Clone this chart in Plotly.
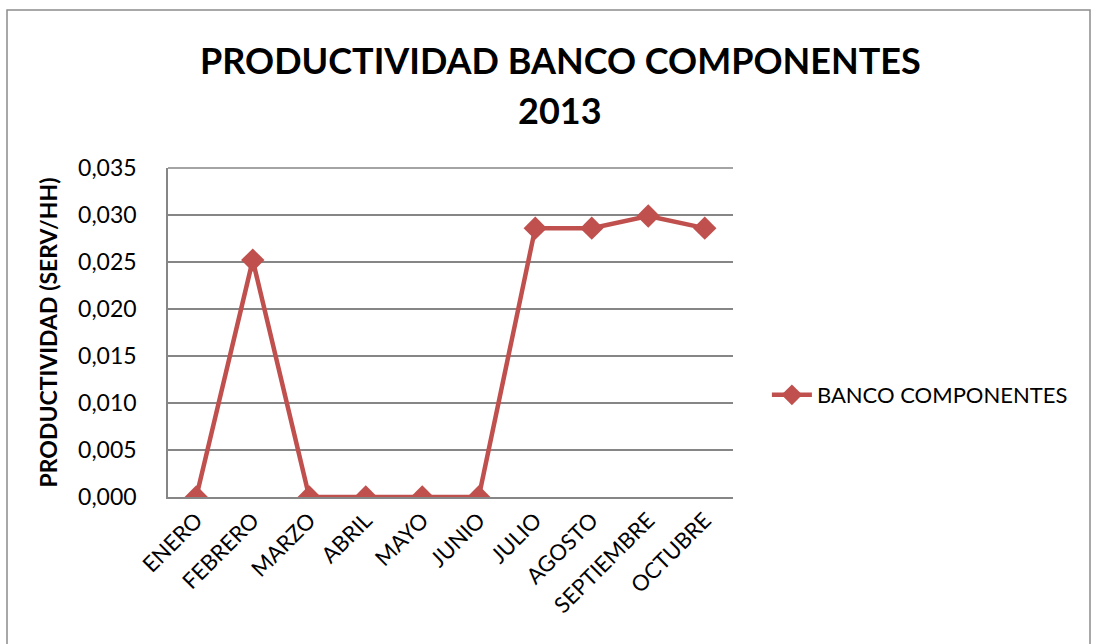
import plotly.graph_objects as go

months = ["ENERO", "FEBRERO", "MARZO", "ABRIL", "MAYO", "JUNIO",
          "JULIO", "AGOSTO", "SEPTIEMBRE", "OCTUBRE"]
productividad = [0.0, 0.0252, 0.0, 0.0, 0.0, 0.0, 0.0286, 0.0286, 0.0299, 0.0286]
series_name = "BANCO COMPONENTES"
title_lines = ["PRODUCTIVIDAD BANCO COMPONENTES", "2013"]
y_ticks = [0.0, 0.005, 0.010, 0.015, 0.020, 0.025, 0.030, 0.035]
y_tick_labels = ["0,000", "0,005", "0,010", "0,015", "0,020", "0,025", "0,030", "0,035"]

FONT = "Lato"
RED = "#C0504D"
GRID = "#868686"

fig = go.Figure()
fig.add_trace(go.Scatter(
    x=months, y=productividad, name=series_name, mode="lines+markers",
    line=dict(color=RED, width=4.5),
    marker=dict(symbol="diamond", size=18, color=RED),
))

fig.update_layout(
    width=1098, height=644,
    margin=dict(l=168, r=365, t=168, b=147),
    paper_bgcolor="white", plot_bgcolor="white",
    font=dict(family=FONT, color="black"),
    showlegend=True,
    legend=dict(
        x=1.06, y=0.31, xanchor="left", yanchor="middle",
        font=dict(family=FONT, size=22, color="black"),
        bgcolor="rgba(0,0,0,0)", itemwidth=40,
    ),
    xaxis=dict(
        type="category", range=[-0.5, 9.5],
        tickangle=-45, tickfont=dict(family=FONT, size=22, color="black"),
        showgrid=False, showline=True, linecolor=GRID, linewidth=1.5,
        ticks="", zeroline=False,
    ),
    yaxis=dict(
        range=[0, 0.035], tickvals=y_ticks, ticktext=y_tick_labels,
        tickfont=dict(family=FONT, size=23, color="black"),
        showgrid=True, gridcolor=GRID, gridwidth=1.5,
        showline=True, linecolor=GRID, linewidth=1.5,
        ticks="", zeroline=False, ticklabelstandoff=25,
        title=dict(text="<b>PRODUCTIVIDAD (SERV/HH)</b>",
                   font=dict(family=FONT, size=23, color="black"),
                   standoff=14),
    ),
)

for i, line in enumerate(title_lines):
    fig.add_annotation(
        text=f"<b>{line}</b>", xref="paper", yref="paper",
        x=(560 - 168) / 565, y=(497 - (60 + 50 * i)) / 329,
        xanchor="center", yanchor="middle", showarrow=False,
        font=dict(family=FONT, size=36, color="black"),
    )

fig.add_shape(type="line", xref="paper", yref="paper", x0=0, x1=1, y0=1, y1=1,
              line=dict(color=GRID, width=1.5))

fig.add_shape(type="rect", xref="paper", yref="paper",
              x0=-161/565, x1=(1090-168)/565, y0=-(650-497)/329, y1=(497-10)/329,
              line=dict(color="#8c8c8c", width=1.5), fillcolor="rgba(0,0,0,0)",
              layer="below")

fig.write_html("out.html")
